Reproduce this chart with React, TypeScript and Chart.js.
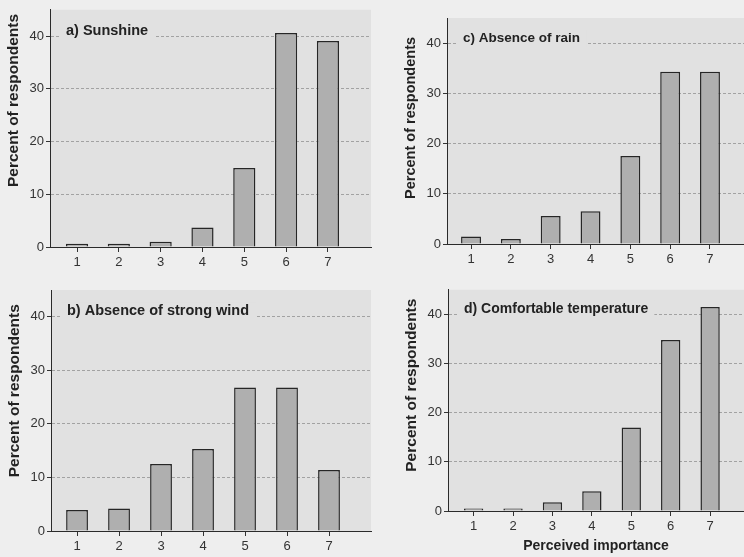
import React, { useEffect, useRef } from 'react';
import { Chart, registerables } from 'chart.js';

Chart.register(...registerables);

const FONT = '"Liberation Sans", Arial, Helvetica, sans-serif';

// ---- data ----
const categories = [1, 2, 3, 4, 5, 6, 7];
const sunshine = [0.6, 0.6, 1.0, 3.7, 15.0, 40.6, 39.1];
const absenceOfStrongWind = [3.9, 4.2, 12.5, 15.3, 26.8, 26.8, 11.4];
const absenceOfRain = [1.5, 1.0, 5.6, 6.5, 17.5, 34.3, 34.3];
const comfortableTemperature = [0.5, 0.5, 1.8, 4.0, 17.0, 34.8, 41.5];
const yTickValues = [0, 10, 20, 30, 40];
const Y_MAX = 45;
const panelTitles = ['a) Sunshine', 'b) Absence of strong wind', 'c) Absence of rain', 'd) Comfortable temperature'];
const yAxisTitle = 'Percent of respondents';
const xAxisTitle = 'Perceived importance';

const PAGE_BG = '#eeeeee';
const PLOT_BG = '#e1e1e1';
const BAR_FILL = '#afafaf';
const INK = '#222222';

type Panel = {
  left: number; top: number; width: number; height: number;
  values: number[]; title: string;
  padTop: number; padRight: number; yWidth: number; xHeight: number;
  xMin: number; xMax: number; barPct: number; xTitle: boolean;
  titleSize: number; yTitleSize: number; yTitleAt: number;
};

const panels: Panel[] = [
  { left: 0, top: 0, width: 372, height: 275, values: sunshine, title: panelTitles[0],
    padTop: 6, padRight: 1, yWidth: 50, xHeight: 28, xMin: 0.354, xMax: 8.03, barPct: 0.53, xTitle: false,
    titleSize: 14.5, yTitleSize: 15.5, yTitleAt: 27.8 },
  { left: 0, top: 280, width: 372, height: 277, values: absenceOfStrongWind, title: panelTitles[1],
    padTop: 10, padRight: 1, yWidth: 51, xHeight: 26, xMin: 0.38, xMax: 8.0, barPct: 0.52, xTitle: false,
    titleSize: 14.5, yTitleSize: 15.5, yTitleAt: 26.2 },
  { left: 372, top: 0, width: 372, height: 275, values: absenceOfRain, title: panelTitles[2],
    padTop: 18, padRight: 0, yWidth: 75, xHeight: 31, xMin: 0.397, xMax: 7.854, barPct: 0.5, xTitle: false,
    titleSize: 13.5, yTitleSize: 14.5, yTitleAt: 25.1 },
  { left: 372, top: 280, width: 372, height: 277, values: comfortableTemperature, title: panelTitles[3],
    padTop: 7, padRight: 0, yWidth: 76, xHeight: 46, xMin: 0.35, xMax: 7.86, barPct: 0.49, xTitle: true,
    titleSize: 14, yTitleSize: 15.5, yTitleAt: 25.6 },
];

const panelDecor = {
  id: 'panelDecor',
  beforeDraw(chart: any) {
    const { ctx, chartArea: a } = chart;
    ctx.save();
    ctx.fillStyle = PLOT_BG;
    ctx.fillRect(a.left, a.top, a.right - a.left, a.bottom - a.top);
    ctx.restore();
  },
  beforeDatasetsDraw(chart: any, _args: any, opts: any) {
    const { ctx, chartArea: a, scales } = chart;
    const y = scales.y;
    ctx.save();
    // panel label with background box hiding grid lines
    ctx.font = `bold ${opts.titleSize}px ${FONT}`;
    const lx = a.left + 16;
    const ly = y.getPixelForValue(41);
    const w = ctx.measureText(opts.title).width;
    ctx.fillStyle = PLOT_BG;
    ctx.fillRect(lx - 6, ly - 9, w + 12, 18);
    ctx.fillStyle = INK;
    ctx.textBaseline = 'middle';
    ctx.textAlign = 'left';
    ctx.fillText(opts.title, lx, ly);
    // y-axis title
    ctx.font = `bold ${opts.yTitleSize}px ${FONT}`;
    ctx.translate(a.left - 36, y.getPixelForValue(opts.yTitleAt));
    ctx.rotate(-Math.PI / 2);
    ctx.textAlign = 'center';
    ctx.fillText(yAxisTitle, 0, 0);
    ctx.restore();
  },
};

function PanelChart({ p }: { p: Panel }) {
  const ref = useRef<HTMLCanvasElement | null>(null);
  useEffect(() => {
    if (!ref.current) return;
    const chart = new Chart(ref.current, {
      type: 'bar',
      data: {
        datasets: [{
          data: categories.map((c, i) => ({ x: c, y: p.values[i] })),
          backgroundColor: BAR_FILL,
          borderColor: '#262626',
          borderWidth: 1.5,
          barPercentage: p.barPct,
          categoryPercentage: 1,
        }],
      },
      options: {
        responsive: false,
        animation: false,
        devicePixelRatio: 1,
        layout: { padding: { top: p.padTop, right: p.padRight, left: 0, bottom: 0 } },
        plugins: {
          legend: { display: false },
          tooltip: { enabled: false },
          panelDecor: { title: p.title, titleSize: p.titleSize, yTitleSize: p.yTitleSize, yTitleAt: p.yTitleAt },
        } as any,
        scales: {
          x: {
            type: 'linear',
            min: p.xMin,
            max: p.xMax,
            offset: false,
            afterBuildTicks: (s: any) => { s.ticks = categories.map((v) => ({ value: v })); },
            afterFit: (s: any) => { s.height = p.xHeight; },
            grid: { display: true, drawOnChartArea: false, offset: false, tickLength: 5, tickColor: '#333', color: '#333' },
            border: { display: true, color: '#2a2a2a', width: 1 },
            ticks: { font: { family: FONT, size: 13 }, color: '#333', padding: 3, callback: (v: any) => String(v) },
            title: {
              display: p.xTitle, text: xAxisTitle, color: INK,
              font: { family: FONT, size: 14, weight: 'bold' }, padding: { top: 0, bottom: 2 },
            },
          },
          y: {
            type: 'linear',
            min: 0,
            max: Y_MAX,
            afterBuildTicks: (s: any) => { s.ticks = yTickValues.map((v) => ({ value: v })); },
            afterFit: (s: any) => { s.width = p.yWidth; },
            grid: { color: '#a2a2a2', tickColor: '#333', tickLength: 4, lineWidth: 1 },
            border: { display: true, color: '#2a2a2a', width: 1, dash: [3, 2] },
            ticks: { font: { family: FONT, size: 13 }, color: '#333', padding: 2 },
          },
        },
      },
      plugins: [panelDecor],
    } as any);
    return () => chart.destroy();
  }, [p]);
  return (
    <div style={{ position: 'absolute', left: p.left, top: p.top, width: p.width, height: p.height }}>
      <canvas ref={ref} width={p.width} height={p.height} style={{ display: 'block', width: p.width, height: p.height }} />
    </div>
  );
}

export default function App() {
  return (
    <div style={{ position: 'absolute', left: 0, top: 0, width: 744, height: 557, background: PAGE_BG, overflow: 'hidden' }}>
      {panels.map((p, i) => <PanelChart key={i} p={p} />)}
    </div>
  );
}
